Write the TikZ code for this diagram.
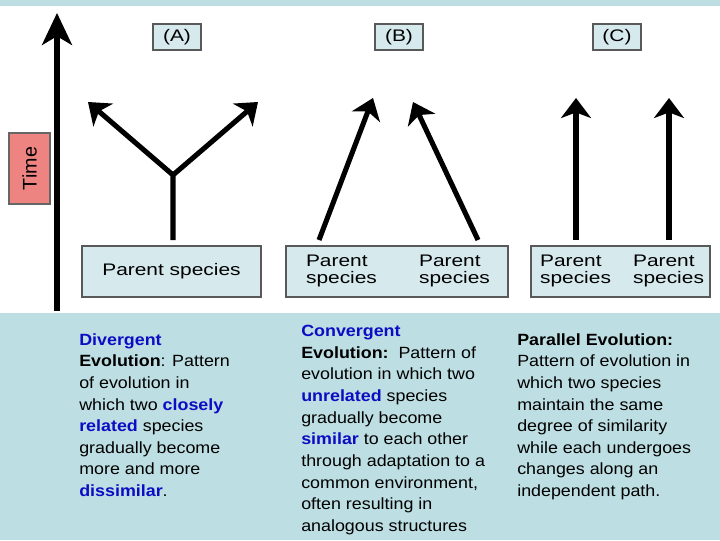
\documentclass[tikz,border=0pt]{standalone}
\usepackage{fontspec}
\setmainfont{Liberation Sans}
\newfontfamily\figfont[FakeStretch=1.25]{Liberation Sans}
\newfontfamily\txtfont[FakeStretch=1.1]{Liberation Sans}
\usetikzlibrary{arrows.meta}

\definecolor{bgblue}{RGB}{189,222,226}
\definecolor{boxblue}{RGB}{214,234,238}
\definecolor{timered}{RGB}{238,132,130}
\definecolor{keyblue}{RGB}{12,12,196}
\newcommand{\keyword}[1]{\textcolor{keyblue}{\textbf{#1}}}

\begin{document}
\begin{tikzpicture}[x=0.025cm,y=-0.025cm,
  spbox/.style={draw=black!65,fill=boxblue,line width=0.8pt,inner sep=0},
  evo/.style={line width=3.6pt,-{Stealth[length=0.5cm,width=0.75cm,inset=0.14cm]}},
  lbl/.style={font=\figfont\fontsize{11.9}{11.5}\selectfont,align=left,inner sep=0},
  col/.style={anchor=north west,align=left,inner sep=0,
    font=\txtfont\fontsize{11.55}{15.4}\selectfont}]

% Fond
\useasboundingbox (0,0) rectangle (720,540);
\fill[bgblue] (0,0) rectangle (720,540);
\fill[white] (0,6) rectangle (720,313);

% Temps
\coordinate (t0) at (57,311);
\coordinate (t1) at (57,13);
\draw[line width=3.6pt,-{Stealth[length=0.8cm,width=0.75cm,inset=0.22cm]}] (t0) -- (t1);
\node[draw=black!60,fill=timered,line width=0.8pt,rotate=90,
  minimum width=1.775cm,minimum height=1.025cm,
  font=\fontsize{14}{16}\selectfont] (time) at (29.5,168.5) {Time};

\foreach \n/\x in {A/177,B/399,C/617}
{
    \node[spbox,minimum width=1.2cm,minimum height=0.65cm,
      font=\figfont\fontsize{11.9}{12}\selectfont] (lab\n) at (\x,37) {(\n)};
}

% (A)
\node[spbox,minimum width=4.475cm,minimum height=1.275cm,lbl] (boxA)
  at (171.5,271.5) {Parent species};
\coordinate (a0) at (173,240);
\coordinate (fork) at (173,175);
\coordinate (a1) at (88,102);
\coordinate (a2) at (258,102);
\draw[evo] (a0) -- (fork) -- (a1);
\draw[evo] (fork) -- (a2);

% (B)
\node[spbox,minimum width=5.55cm,minimum height=1.275cm] (boxB) at (397,271.5) {};
\node[lbl] (parB1) at (341.5,271) {Parent\\species};
\node[lbl] (parB2) at (454.5,271) {Parent\\species};
\coordinate (b0) at (319,240);
\coordinate (b1) at (373,98);
\coordinate (b2) at (478,240);
\coordinate (b3) at (413,102);
\draw[evo] (b0) -- (b1);
\draw[evo] (b2) -- (b3);

% (C)
\node[spbox,minimum width=4.475cm,minimum height=1.275cm] (boxC) at (620.5,271.5) {};
\node[lbl] (parC1) at (575.5,271) {Parent\\species};
\node[lbl] (parC2) at (668.5,271) {Parent\\species};
\foreach \i/\x in {1/576,2/669}
{
    \coordinate (c\i0) at (\x,240);
    \coordinate (c\i1) at (\x,98);
    \draw[evo] (c\i0) -- (c\i1);
}

% Textes
\node[col] (divtxt) at (79,333)
{\keyword{Divergent}\\
\textbf{Evolution}: Pattern\\
of evolution in\\
which two \keyword{closely}\\
\keyword{related} species\\
gradually become\\
more and more\\
\keyword{dissimilar}.};

\node[col] (contxt) at (301,325)
{\keyword{Convergent}\\
\textbf{Evolution:}\ \ Pattern of\\
evolution in which two\\
\keyword{unrelated} species\\
gradually become\\
\keyword{similar} to each other\\
through adaptation to a\\
common environment,\\
often resulting in\\
analogous structures};

\node[col] (partxt) at (517,333)
{\textbf{Parallel Evolution:}\\
Pattern of evolution in\\
which two species\\
maintain the same\\
degree of similarity\\
while each undergoes\\
changes along an\\
independent path.};

\end{tikzpicture}
\end{document}
